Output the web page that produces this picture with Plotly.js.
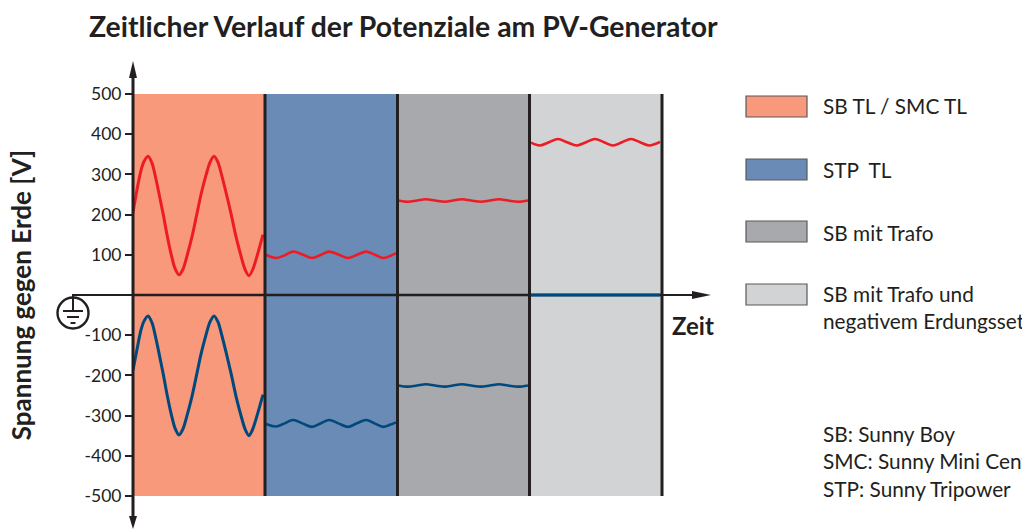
<!DOCTYPE html>
<html><head><meta charset="utf-8">
<script src="https://cdn.plot.ly/plotly-3.0.1.min.js"></script>
<style>html,body{margin:0;padding:0;background:#fff;overflow:hidden}</style>
</head><body><div id="chart" style="width:1022px;height:530px"></div>
<script>
// Data
const panelNames = ["SB TL / SMC TL", "STP  TL", "SB mit Trafo", "SB mit Trafo und<br>negativem Erdungsset"];
const panelColors = ["#F7997A", "#6A8BB5", "#A7A9AC", "#D1D3D4"];
const panelCenters = [66, 198.5, 330.5, 463];
const panelWidths = [132.25, 132.25, 132.25, 132.25];
const panelBase = [-500, -500, -500, -500];
const panelHeight = [1000, 1000, 1000, 1000];
const panelEdges = [132, 264.5, 396.5, 529];
const yTickVals = [500, 400, 300, 200, 100, -100, -200, -300, -400, -500];
const yTickText = ["500", "400", "300", "200", "100", "-100", "-200", "-300", "-400", "-500"];

const t1 = [0, 4, 8, 11, 15, 19, 23, 27, 30.5, 34, 38, 42, 46, 50, 54, 59, 63.5, 68, 73, 77, 81, 85, 89, 94, 98.5, 103, 108, 112, 116, 120, 125, 130];
const red1 = [205, 262, 310, 332, 345, 328, 288, 240, 197, 150, 103, 66, 50, 64, 97, 145, 197, 250, 298, 330, 345, 330, 295, 245, 197, 145, 97, 64, 48, 65, 105, 150];
const blue1 = [-187, -135, -87, -65, -52, -69, -109, -157, -200, -247, -294, -331, -348, -333, -300, -252, -200, -147, -99, -67, -52, -67, -102, -152, -200, -252, -300, -333, -350, -332, -292, -248];
const t2 = [133, 143, 151, 160, 170, 179, 188, 196, 206, 215, 224, 233, 242, 250, 257, 263];
const red2 = [100, 92, 98, 108, 100, 92, 100, 108, 100, 92, 100, 108, 100, 92, 97, 104];
const blue2 = [-321, -327, -320, -311, -320, -328, -319, -311, -320, -328, -319, -311, -320, -328, -323, -317];
const t3 = [265, 275, 284, 293, 302, 312, 320, 329, 338, 348, 357, 366, 375, 385, 395];
const red3 = [235, 232, 235, 238, 235, 232, 235, 238, 235, 232, 235, 238, 235, 232, 235];
const blue3 = [-225, -228, -225, -222, -225, -228, -225, -222, -225, -228, -225, -222, -225, -228, -225];
const t4 = [398, 407, 416, 425, 434, 444, 453, 462, 471, 480, 489, 498, 507, 516, 527];
const red4 = [379, 372, 380, 388, 380, 372, 380, 388, 380, 372, 380, 388, 380, 372, 381];
const blue4 = [0, 0, 0, 0, 0, 0, 0, 0, 0, 0, 0, 0, 0, 0, 0];
const axisT = [0, 529];
const axisV = [0, 0];
const notes = ["SB: Sunny Boy", "SMC: Sunny Mini Central", "STP: Sunny Tripower"];

// Layout geometry (page pixels)
const W = 1022, H = 530, L = 133, R = 662, T = 94, B = 496;
const px = x => (x - L) / (R - L);
const py = y => (B - y) / (B - T);
const font = "Lato, 'Open Sans', sans-serif";
const ink = "#231F20";

const RED = "#ED1C24", BLUE = "#00497F";
function curve(x, y, color, w, s) {
  return {type: "scatter", mode: "lines", x, y, hoverinfo: "skip", showlegend: false,
    line: {color, width: w, shape: "spline", smoothing: s}};
}
const traces = [
  {type: "bar", x: panelCenters, y: panelHeight, base: panelBase, width: panelWidths,
   marker: {color: panelColors, line: {width: 0}}, hoverinfo: "skip", showlegend: false},
  {type: "scatter", mode: "lines", x: axisT, y: axisV, hoverinfo: "skip", showlegend: false,
   line: {color: ink, width: 2.5}},
  curve(t1, red1, RED, 3, 0.8), curve(t1, blue1, BLUE, 3, 0.8),
  curve(t2, red2, RED, 2.6, 1), curve(t2, blue2, BLUE, 2.6, 1),
  curve(t3, red3, RED, 2.6, 1), curve(t3, blue3, BLUE, 2.6, 1),
  curve(t4, red4, RED, 2.6, 1), curve(t4, blue4, BLUE, 3, 1)
];

const line = (x0, y0, x1, y1, w, c) => ({type: "line", xref: "paper", yref: "paper", layer: "above",
  x0: px(x0), y0: py(y0), x1: px(x1), y1: py(y1), line: {color: c || ink, width: w}});
const tri = pts => ({type: "path", xref: "paper", yref: "paper", layer: "above", fillcolor: ink,
  line: {width: 0}, path: "M" + pts.map(p => px(p[0]) + "," + py(p[1])).join(" L") + " Z"});

const shapes = [
  line(133, 72, 133, 518, 3),
  line(72, 295, 133, 295, 2.2),
  line(662, 295, 695, 295, 2.2),
  tri([[133, 61], [129, 78], [137, 78]]),
  tri([[133, 529], [129, 516], [137, 516]]),
  tri([[711, 295], [692, 291], [692, 299]]),
  line(73, 295, 73, 311, 2),
  line(63, 311, 83, 311, 2),
  line(67, 317, 79, 317, 2),
  line(70.5, 323, 75.5, 323, 2),
  {type: "circle", xref: "paper", yref: "paper", layer: "above", x0: px(57.5), x1: px(88.5), y0: py(297.5), y1: py(328.5),
   line: {color: ink, width: 2.4}, fillcolor: "rgba(0,0,0,0)"}
];
panelEdges.forEach(e => shapes.push({type: "line", xref: "paper", yref: "y", layer: "above", x0: e / 529, x1: e / 529, y0: -500, y1: 500,
  line: {color: ink, width: 3}}));

const swatchTop = [96, 159, 221, 284];
const labelY = [105, 169, 232, 307];
const annotations = [];
panelNames.forEach((n, i) => {
  shapes.push({type: "rect", xref: "paper", yref: "paper", layer: "above",
    x0: px(746), x1: px(807), y0: py(swatchTop[i]), y1: py(swatchTop[i] + 21),
    fillcolor: panelColors[i], line: {color: "#58595B", width: 1.2}});
  annotations.push({xref: "paper", yref: "paper", x: px(821), y: py(labelY[i]), xanchor: "left", yanchor: "middle",
    align: "left", showarrow: false, text: n, font: {family: font, size: 20.8, color: ink}});
});
[433, 460, 488].forEach((y, i) => annotations.push({xref: "paper", yref: "paper", x: px(821), y: py(y),
  xanchor: "left", yanchor: "middle", align: "left", showarrow: false, text: notes[i],
  font: {family: font, size: 20.8, color: ink}}));
annotations.push({xref: "paper", yref: "paper", x: px(670), y: py(325), xanchor: "left", yanchor: "middle",
  showarrow: false, text: "<b>Zeit</b>", font: {family: font, size: 24, color: ink}});

const layout = {
  width: W, height: H, autosize: false, paper_bgcolor: "#fff", plot_bgcolor: "#fff",
  margin: {l: L, r: W - R, t: T, b: H - B, pad: 0},
  showlegend: false, bargap: 0,
  title: {text: "<b>Zeitlicher Verlauf der Potenziale am PV-Generator</b>", x: 89 / W, xanchor: "left",
    y: 1 - 27 / H, yanchor: "middle", font: {family: font, size: 28.4, color: ink}},
  xaxis: {range: [0, 529], visible: false, fixedrange: true},
  yaxis: {range: [-500, 500], tickmode: "array", tickvals: yTickVals, ticktext: yTickText,
    ticks: "outside", ticklen: 7, tickwidth: 2, tickcolor: ink, showgrid: false, zeroline: false, showline: false,
    tickfont: {family: font, size: 17.5, color: ink}, fixedrange: true,
    title: {text: "<b>Spannung gegen Erde [V]</b>", standoff: 45, font: {family: font, size: 26, color: ink}}},
  shapes, annotations
};
Plotly.newPlot("chart", traces, layout, {displayModeBar: false, staticPlot: true});
</script></body></html>
